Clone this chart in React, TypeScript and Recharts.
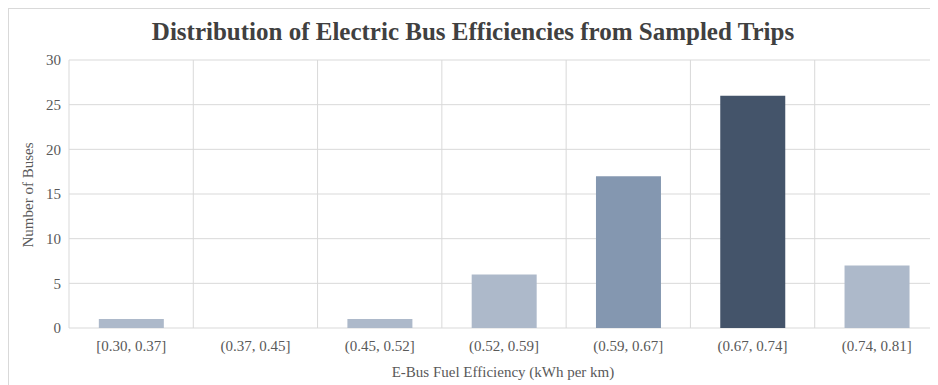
import { BarChart, Bar, XAxis, YAxis, CartesianGrid, Cell } from "recharts";

const bins = ["[0.30, 0.37]", "(0.37, 0.45]", "(0.45, 0.52]", "(0.52, 0.59]", "(0.59, 0.67]", "(0.67, 0.74]", "(0.74, 0.81]"];
const busCounts = [1, 0, 1, 6, 17, 26, 7];
const barColors = ["#adb9ca", "#adb9ca", "#adb9ca", "#adb9ca", "#8497b0", "#44546a", "#adb9ca"];
const yTicks = [0, 5, 10, 15, 20, 25, 30];
const binEdges = [0, 1, 2, 3, 4, 5, 6, 7];

const data = bins.map((bin, i) => ({ bin, idx: i + 0.5, count: busCounts[i] }));

const FONT = "Liberation Serif";
const tickStyle = { fill: "#595959", fontSize: 15, fontFamily: FONT };

export default function App() {
  return (
    <div
      style={{
        position: "relative",
        width: 928,
        height: 380,
        border: "1px solid #d9d9d9",
        overflow: "hidden",
        background: "#fff",
        fontFamily: FONT,
      }}
    >
      <div
        style={{
          position: "absolute", left: 0, width: 928, top: 8, textAlign: "center",
          fontSize: 25, fontWeight: "bold", color: "#404040", lineHeight: "30px", fontFamily: FONT,
        }}
      >
        Distribution of Electric Bus Efficiencies from Sampled Trips
      </div>
      <div
        style={{
          position: "absolute", left: 60, width: 868, top: 353, textAlign: "center",
          fontSize: 15, color: "#595959", lineHeight: "20px", fontFamily: FONT,
        }}
      >
        E-Bus Fuel Efficiency (kWh per km)
      </div>
      <div style={{ position: "absolute", left: 19, top: 186, width: 0, height: 0 }}>
        <div
          style={{
            position: "absolute", left: -100, top: -10, width: 200, textAlign: "center",
            fontSize: 15, color: "#595959", lineHeight: "20px", transform: "rotate(-90deg)",
            whiteSpace: "nowrap", fontFamily: FONT,
          }}
        >
          Number of Buses
        </div>
      </div>
      <div style={{ position: "absolute", left: 0, top: 0 }}>
        <BarChart
          width={930}
          height={380}
          data={data}
          margin={{ top: 51, right: 0, bottom: 31, left: 0 }}
          barCategoryGap="24%"
        >
          <CartesianGrid stroke="#d9d9d9" strokeWidth={1} xAxisId="grid" />
          <XAxis
            dataKey="bin"
            tick={tickStyle}
            axisLine={false}
            tickLine={false}
            tickMargin={6}
            height={30}
            interval={0}
          />
          <XAxis xAxisId="grid" type="number" dataKey="idx" domain={[0, 7]} ticks={binEdges} hide />
          <YAxis
            domain={[0, 30]}
            ticks={yTicks}
            tick={tickStyle}
            axisLine={false}
            tickLine={false}
            width={60}
            interval={0}
          />
          <Bar dataKey="count" isAnimationActive={false}>
            {data.map((d, i) => (
              <Cell key={d.bin} fill={barColors[i]} />
            ))}
          </Bar>
        </BarChart>
      </div>
    </div>
  );
}
